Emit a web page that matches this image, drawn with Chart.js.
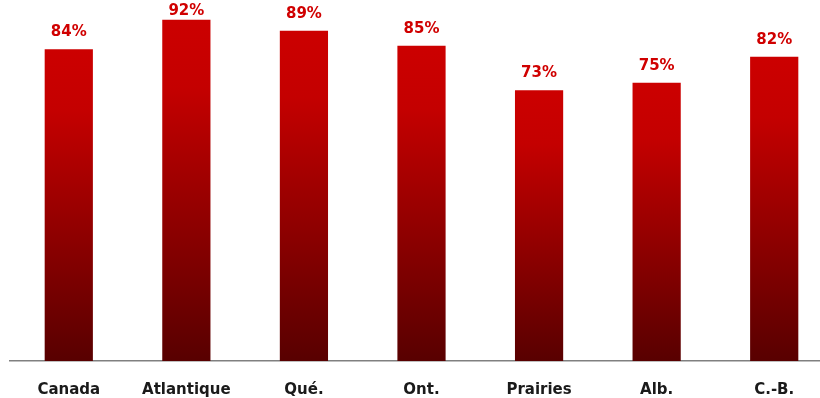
<!DOCTYPE html>
<html lang="fr">
<head>
<meta charset="utf-8">
<title>Pourcentage par région</title>
<script src="https://cdn.jsdelivr.net/npm/chart.js@4.4.1/dist/chart.umd.min.js"></script>
<style>
    html, body { margin: 0; padding: 0; background: #ffffff; overflow: hidden; }
    #wrap { width: 820px; height: 398px; overflow: hidden; }
    canvas { display: block; }
</style>
</head>
<body>
<div id="wrap"><canvas id="regionChart" width="834" height="419"></canvas></div>
<script>
const regions = ['Canada', 'Atlantique', 'Qué.', 'Ont.', 'Prairies', 'Alb.', 'C.-B.'];
const percentages = [84, 92, 89, 85, 73, 75, 82];

const barTop = '#cc0000';
const barBottom = '#580000';
const labelRed = '#d00000';
const labelFont = 'bold 15px "DejaVu Sans", Verdana, sans-serif';

// each bar gets its own gradient, bright at the top and dark at the base
function barGradient(context) {
    const chart = context.chart;
    if (!chart.chartArea || !context.parsed) {
        return barTop;
    }
    const yScale = chart.scales.y;
    const top = yScale.getPixelForValue(context.parsed.y);
    const base = yScale.getPixelForValue(0);
    const gradient = chart.ctx.createLinearGradient(0, top, 0, base);
    gradient.addColorStop(0, barTop);
    gradient.addColorStop(0.2, '#c40000');
    gradient.addColorStop(1, barBottom);
    return gradient;
}

// percentage printed above every bar, kept inside the canvas for the tallest one
const valueLabels = {
    id: 'valueLabels',
    afterDatasetsDraw(chart) {
        const ctx = chart.ctx;
        const meta = chart.getDatasetMeta(0);
        ctx.save();
        ctx.font = labelFont;
        ctx.fillStyle = labelRed;
        ctx.textAlign = 'center';
        ctx.textBaseline = 'alphabetic';
        meta.data.forEach((bar, i) => {
            const y = Math.max(bar.y - 13, 15);
            ctx.fillText(percentages[i] + '%', bar.x, y);
        });
        ctx.restore();
    }
};

new Chart(document.getElementById('regionChart'), {
    type: 'bar',
    data: {
        labels: regions,
        datasets: [{
            data: percentages,
            backgroundColor: barGradient,
            borderWidth: 0,
            barPercentage: 0.41,
            categoryPercentage: 1
        }]
    },
    options: {
        responsive: false,
        animation: false,
        layout: {
            padding: { left: 10, right: 1, top: 0, bottom: 0 }
        },
        plugins: {
            legend: { display: false },
            tooltip: { enabled: false }
        },
        scales: {
            x: {
                grid: { display: false, drawTicks: false },
                border: { display: true, color: '#808080', width: 1.5 },
                ticks: {
                    color: '#1a1a1a',
                    padding: 20,
                    font: { family: '"DejaVu Sans", Verdana, sans-serif', size: 15, weight: 'bold' }
                }
            },
            y: {
                display: false,
                min: 0,
                max: 97.3
            }
        }
    },
    plugins: [valueLabels]
});
</script>
</body>
</html>
